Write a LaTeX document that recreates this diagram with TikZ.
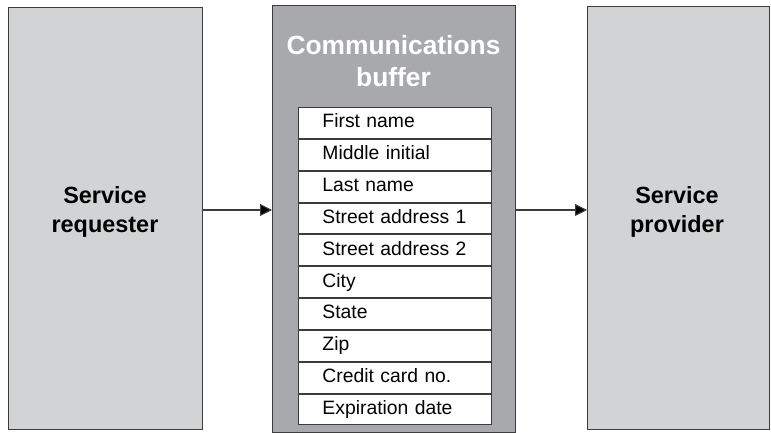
\documentclass[tikz,border=0pt]{standalone}
\usepackage{fontspec}
\setmainfont{Liberation Sans}
\usepackage{xcolor}
\usetikzlibrary{arrows.meta}
\usetikzlibrary{positioning}

\definecolor{sidegrey}{HTML}{D1D3D4}
\definecolor{bufgrey}{HTML}{A7A9AC}
\definecolor{edgegrey}{HTML}{3C3C3C}

\begin{document}
\begin{tikzpicture}[x=0.03cm, y=-0.03cm,
  sidebox/.style={draw=edgegrey, line width=0.9pt, fill=sidegrey, anchor=north west,
    align=center, font=\fontsize{20}{25}\selectfont\bfseries},
  bufbox/.style={draw=edgegrey, line width=0.9pt, fill=bufgrey, anchor=north west},
  field/.style={draw=edgegrey, line width=0.8pt, fill=white, minimum height=0.927cm,
    inner xsep=0.72cm, inner ysep=0pt, text width=4.35cm, align=left,
    text height=12pt, text depth=3.6pt,
    font=\fontsize{16.5}{19}\selectfont},
  arr/.style={draw=edgegrey, line width=0.9pt, -{Triangle[length=3.6mm,width=3.6mm,fill=black]}}]
\useasboundingbox (0,0) rectangle (771,433);

% the three boxes
\node[sidebox, minimum width=5.82cm, minimum height=12.66cm] (req) at (8,7) {};
\node[font=\fontsize{20}{25}\selectfont\bfseries, align=center] (reqtext) at (105,212) {Service\\requester};

\node[bufbox, minimum width=7.29cm, minimum height=12.81cm] (buf) at (272,5) {};
\node[font=\fontsize{22.5}{28}\selectfont\bfseries, text=white, align=center] (buftitle) at (393.5,61) {Communications\\buffer};

\node[sidebox, minimum width=5.46cm, minimum height=12.69cm] (prov) at (587,6) {};
\node[font=\fontsize{20}{25}\selectfont\bfseries, align=center] (provtext) at (677,212) {Service\\provider};

% the fields of the buffer
\node[field, anchor=north west] (f1) at (298,107) {First name};
\node[field, below=0pt of f1] (f2) {Middle initial};
\node[field, below=0pt of f2] (f3) {Last name};
\node[field, below=0pt of f3] (f4) {Street address 1};
\node[field, below=0pt of f4] (f5) {Street address 2};
\node[field, below=0pt of f5] (f6) {City};
\node[field, below=0pt of f6] (f7) {State};
\node[field, below=0pt of f7] (f8) {Zip};
\node[field, below=0pt of f8] (f9) {Credit card no.};
\node[field, below=0pt of f9] (f10) {Expiration date};

% connectors
\coordinate (flow) at (0,210);
\draw[arr] (req.east |- flow) -- (buf.west |- flow);
\draw[arr] (buf.east |- flow) -- (prov.west |- flow);
\end{tikzpicture}
\end{document}
